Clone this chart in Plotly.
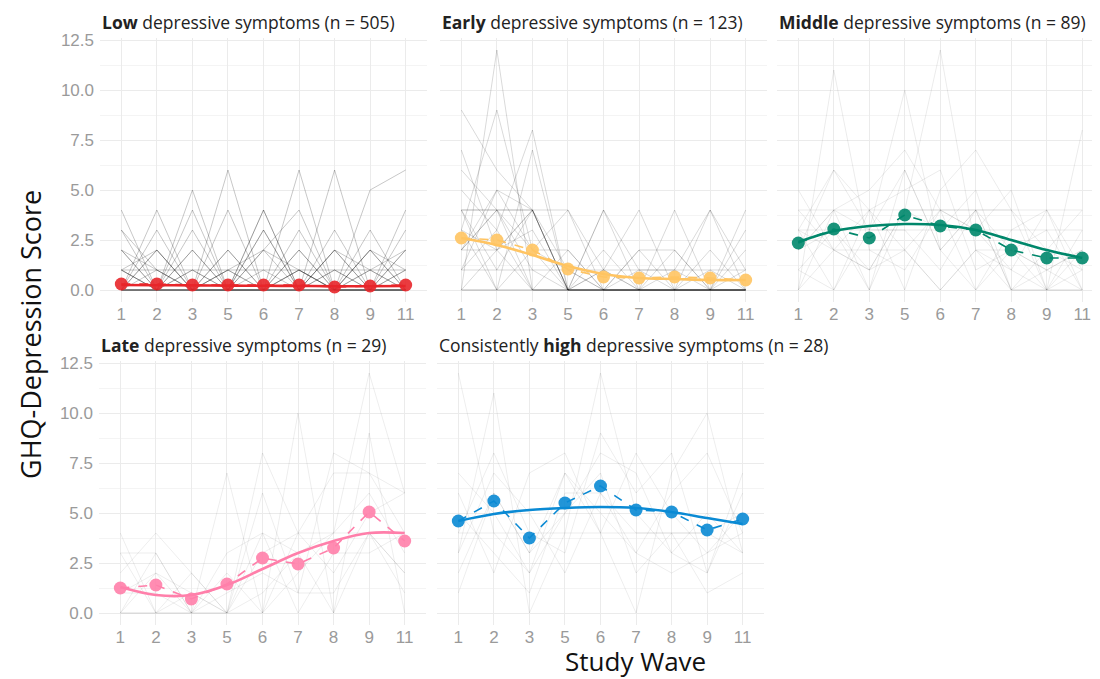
import plotly.graph_objects as go

waves = ["1", "2", "3", "5", "6", "7", "8", "9", "11"]
y_ticks = [0, 2.5, 5, 7.5, 10, 12.5]
y_tick_labels = ["0.0", "2.5", "5.0", "7.5", "10.0", "12.5"]

titles = [
    "<b>Low</b> depressive symptoms (n = 505)",
    "<b>Early</b> depressive symptoms (n = 123)",
    "<b>Middle</b> depressive symptoms (n = 89)",
    "<b>Late</b> depressive symptoms (n = 29)",
    "Consistently <b>high</b> depressive symptoms (n = 28)",
]
colors = ["#e8262a", "#ffc462", "#00876b", "#ff7faa", "#0a8ad4"]

# class means (dashed line + points)
mean_low = [0.3, 0.3, 0.25, 0.25, 0.25, 0.25, 0.15, 0.2, 0.25]
mean_early = [2.6, 2.5, 2.0, 1.05, 0.65, 0.6, 0.65, 0.6, 0.5]
mean_middle = [2.35, 3.05, 2.6, 3.75, 3.2, 3.0, 2.0, 1.6, 1.6]
mean_late = [1.25, 1.4, 0.7, 1.45, 2.75, 2.45, 3.25, 5.05, 3.6]
mean_high = [4.6, 5.6, 3.75, 5.5, 6.35, 5.15, 5.05, 4.15, 4.7]

# smoothed trends (solid line)
smooth_low = [0.25, 0.24, 0.23, 0.22, 0.21, 0.2, 0.19, 0.19, 0.2]
smooth_early = [2.6, 2.25, 1.75, 1.2, 0.8, 0.6, 0.55, 0.5, 0.5]
smooth_middle = [2.4, 2.95, 3.2, 3.3, 3.25, 3.0, 2.5, 2.0, 1.6]
smooth_late = [1.3, 0.9, 0.9, 1.4, 2.2, 3.0, 3.6, 4.0, 4.0]
smooth_high = [4.6, 4.95, 5.15, 5.25, 5.3, 5.25, 5.05, 4.75, 4.45]

# individual trajectories (a readable subset)
indiv_low = [
    [0, 0, 0, 0, 0, 0, 0, 0, 0],
    [0, 0, 0, 0, 0, 0, 0, 0, 0],
    [0, 0, 0, 0, 0, 0, 0, 0, 0],
    [0, 0, 0, 0, 0, 0, 0, 0, 0],
    [1, 0, 1, 0, 1, 0, 1, 0, 1],
    [0, 1, 0, 1, 0, 1, 0, 1, 0],
    [1, 0, 0, 1, 0, 1, 0, 0, 1],
    [2, 1, 0, 2, 0, 1, 0, 1, 2],
    [0, 2, 0, 0, 2, 0, 2, 0, 0],
    [2, 0, 2, 0, 0, 2, 0, 2, 0],
    [0, 3, 0, 2, 0, 3, 0, 3, 0],
    [1, 0, 4, 0, 4, 0, 3, 0, 2],
    [3, 0, 2, 0, 3, 0, 2, 0, 3],
    [0, 2, 0, 4, 0, 2, 0, 2, 0],
    [4, 0, 3, 0, 2, 4, 0, 0, 0],
    [0, 0, 5, 0, 0, 6, 0, 0, 4],
    [3, 1, 0, 6, 0, 0, 6, 0, 2],
    [0, 4, 0, 0, 3, 0, 0, 5, 6],
    [1, 1, 1, 1, 1, 1, 1, 1, 1],
    [2, 0, 0, 0, 4, 0, 1, 0, 0],
    [0, 0, 1, 0, 0, 0, 2, 1, 0],
    [1, 2, 0, 1, 2, 1, 0, 2, 1],
]
indiv_early = [
    [4, 4, 4, 0, 0, 0, 0, 0, 0],
    [2, 4, 0, 0, 0, 0, 0, 0, 0],
    [3, 2, 4, 1, 0, 0, 0, 0, 0],
    [7, 2, 0, 0, 0, 0, 0, 0, 0],
    [0, 12, 0, 0, 0, 0, 0, 0, 0],
    [1, 3, 8, 0, 0, 0, 0, 0, 0],
    [4, 0, 7, 0, 0, 0, 0, 0, 0],
    [6, 4, 2, 4, 0, 0, 0, 0, 0],
    [2, 5, 4, 0, 4, 0, 1, 0, 1],
    [4, 4, 4, 4, 1, 4, 0, 4, 0],
    [1, 1, 1, 1, 1, 1, 1, 1, 1],
    [0, 2, 4, 0, 2, 0, 2, 0, 4],
    [3, 0, 2, 1, 0, 2, 0, 1, 0],
    [5, 3, 0, 2, 0, 0, 4, 0, 2],
    [2, 2, 3, 0, 1, 0, 0, 2, 0],
    [4, 1, 4, 0, 0, 1, 0, 0, 0],
    [0, 0, 0, 0, 0, 0, 0, 0, 0],
    [0, 0, 0, 0, 0, 0, 0, 0, 0],
    [2, 4, 1, 0, 4, 1, 1, 4, 1],
    [1, 5, 2, 2, 0, 2, 2, 0, 3],
    [9, 6, 4, 0, 0, 0, 0, 0, 0],
    [3, 9, 2, 0, 1, 0, 0, 0, 0],
]
indiv_middle = [
    [4, 4, 4, 4, 4, 4, 4, 4, 4],
    [3, 3, 3, 3, 3, 3, 3, 3, 3],
    [2, 4, 0, 4, 4, 4, 0, 0, 0],
    [0, 11, 2, 2, 0, 2, 2, 0, 1],
    [1, 0, 3, 10, 2, 0, 2, 3, 0],
    [2, 3, 1, 4, 12, 2, 0, 1, 2],
    [3, 6, 4, 0, 5, 7, 4, 0, 8],
    [0, 4, 5, 7, 4, 0, 3, 4, 0],
    [4, 2, 1, 4, 3, 5, 0, 0, 2],
    [1, 3, 0, 6, 2, 4, 2, 1, 0],
    [3, 0, 4, 2, 4, 3, 1, 4, 1],
    [5, 2, 2, 1, 4, 3, 5, 0, 3],
    [2, 4, 3, 6, 2, 4, 0, 2, 4],
    [0, 2, 1, 2, 0, 2, 1, 0, 0],
    [2, 6, 3, 3, 1, 4, 4, 2, 1],
    [3, 2, 4, 5, 6, 1, 2, 1, 2],
]
indiv_late = [
    [4, 0, 2, 0, 4, 3, 4, 12, 6],
    [0, 3, 0, 7, 0, 10, 0, 9, 0],
    [3, 3, 0, 0, 8, 4, 4, 4, 1],
    [2, 4, 2, 0, 6, 1, 8, 7, 4],
    [0, 0, 0, 0, 0, 4, 7, 7, 6],
    [1, 1, 0, 1, 2, 1, 1, 4, 2],
    [0, 0, 0, 2, 0, 2, 4, 6, 3],
    [3, 0, 1, 0, 3, 4, 2, 5, 6],
    [1, 2, 0, 3, 4, 0, 3, 3, 4],
    [0, 2, 1, 0, 1, 3, 0, 4, 2],
]
indiv_high = [
    [12, 4, 2, 7, 5, 3, 6, 8, 4],
    [3, 11, 0, 4, 12, 5, 3, 2, 6],
    [6, 2, 7, 8, 4, 0, 7, 10, 3],
    [4, 8, 4, 3, 9, 6, 8, 2, 7],
    [2, 6, 3, 7, 4, 8, 5, 3, 4],
    [5, 3, 1, 6, 6, 4, 4, 4, 5],
    [4, 4, 4, 4, 4, 4, 4, 4, 3],
    [7, 5, 2, 5, 8, 7, 3, 5, 3],
    [3, 7, 5, 2, 6, 3, 2, 3, 5],
    [1, 6, 3, 5, 7, 2, 4, 1, 2],
]

means = [mean_low, mean_early, mean_middle, mean_late, mean_high]
smooths = [smooth_low, smooth_early, smooth_middle, smooth_late, smooth_high]
indivs = [indiv_low, indiv_early, indiv_middle, indiv_late, indiv_high]
line_alpha = [0.22, 0.15, 0.08, 0.07, 0.07]

# page body has an 8px margin, so the figure is drawn 8px in from the corner
W, H = 1092, 671
# panel boxes in figure pixels: (left, right, top, bottom)
panels = [
    (92, 419, 30, 294),
    (432, 759, 30, 294),
    (769, 1092, 30, 294),
    (91, 418, 353, 617),
    (429, 756, 353, 617),
]
xranges = [[-0.6, 8.6], [-0.6, 8.6], [-0.6, 8.5], [-0.6, 8.6], [-0.6, 8.6]]

fig = go.Figure()
layout = dict(
    width=W, height=H,
    margin=dict(l=0, r=0, t=0, b=0),
    paper_bgcolor="white", plot_bgcolor="white",
    showlegend=False,
    font=dict(family="Liberation Sans, Arial", color="#9a9a9a"),
)
annotations = []
for i in range(5):
    n = i + 1
    xs = "x" if n == 1 else f"x{n}"
    ys = "y" if n == 1 else f"y{n}"
    left, right, top, bottom = panels[i]
    layout["xaxis" if n == 1 else f"xaxis{n}"] = dict(
        domain=[left / W, right / W],
        anchor=ys,
        type="category",
        categoryorder="array",
        categoryarray=waves,
        range=xranges[i],
        showgrid=True, gridcolor="#ebebeb", gridwidth=1,
        zeroline=False, showline=False, ticks="",
        tickfont=dict(size=17, color="#9a9a9a"),
        automargin=False,
    )
    layout["yaxis" if n == 1 else f"yaxis{n}"] = dict(
        domain=[1 - bottom / H, 1 - top / H],
        anchor=xs,
        range=[-0.6, 12.6],
        tickvals=y_ticks,
        ticktext=y_tick_labels,
        showticklabels=(i in (0, 3)),
        showgrid=True, gridcolor="#ebebeb", gridwidth=1,
        minor=dict(dtick=1.25, tick0=0, showgrid=True, gridcolor="#f4f4f4", gridwidth=0.6),
        zeroline=False, showline=False, ticks="",
        tickfont=dict(size=17, color="#9a9a9a"),
        ticklabelstandoff=5,
        automargin=False,
    )
    for traj in indivs[i]:
        fig.add_trace(go.Scatter(
            x=waves, y=traj, xaxis=xs, yaxis=ys, mode="lines",
            line=dict(color=f"rgba(0,0,0,{line_alpha[i]})", width=1),
            hoverinfo="skip",
        ))
    fig.add_trace(go.Scatter(
        x=waves, y=smooths[i], xaxis=xs, yaxis=ys, mode="lines",
        line=dict(color=colors[i], width=2.6, shape="spline"),
    ))
    fig.add_trace(go.Scatter(
        x=waves, y=means[i], xaxis=xs, yaxis=ys, mode="lines+markers",
        line=dict(color=colors[i], width=1.6, dash="dash"),
        marker=dict(color=colors[i], size=13, opacity=0.9),
    ))
    annotations.append(dict(
        text=titles[i], xref="paper", yref="paper",
        x=left / W, y=1 - (top - 16) / H, xanchor="left", yanchor="middle",
        showarrow=False, font=dict(family="Open Sans", size=17.5, color="#222222"),
    ))

annotations.append(dict(
    text="GHQ-Depression Score", xref="paper", yref="paper",
    x=22 / W, y=1 - 327 / H, textangle=-90, xanchor="center", yanchor="middle",
    showarrow=False, font=dict(family="Open Sans", size=27, color="#111111"),
))
annotations.append(dict(
    text="Study Wave", xref="paper", yref="paper",
    x=627 / W, y=1 - 653 / H, xanchor="center", yanchor="middle",
    showarrow=False, font=dict(family="Open Sans", size=26, color="#111111"),
))
layout["annotations"] = annotations
fig.update_layout(**layout)
fig.write_html("out.html")
